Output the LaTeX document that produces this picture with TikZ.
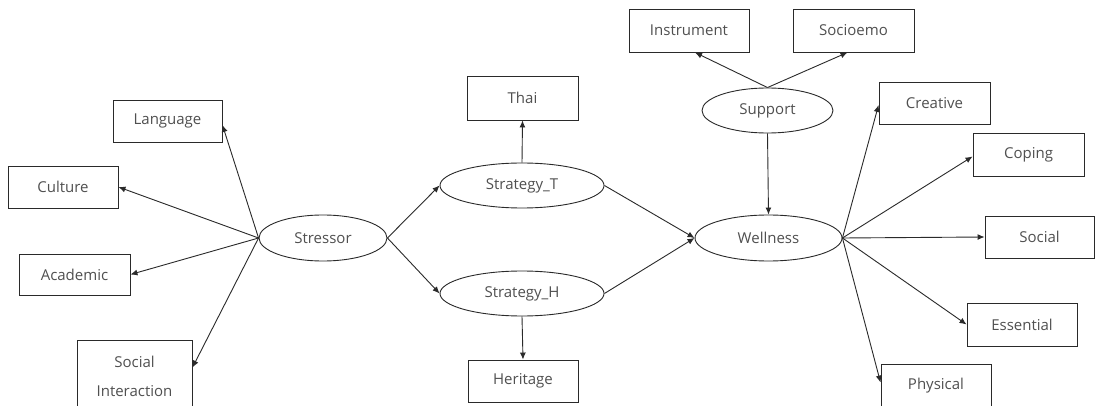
\documentclass[tikz,border=0pt]{standalone}
\usepackage{fontspec}
\setmainfont{Open Sans}
\usetikzlibrary{shapes.geometric,arrows.meta}
\definecolor{txtgray}{HTML}{505050}
\definecolor{linegray}{HTML}{2A2A2A}
\begin{document}
\begin{tikzpicture}[x=1pt,y=-1pt,
  lbl/.style={font=\fontsize{15}{18}\selectfont, text=txtgray},
  box/.style={lbl, draw=linegray, line width=0.9pt, rectangle, inner sep=0pt, align=center},
  latent/.style={lbl, draw=linegray, line width=0.9pt, ellipse, inner sep=0pt},
  link/.style={draw=linegray, line width=0.9pt, -{Latex[length=7pt,width=6pt]}},
]
\useasboundingbox (0,0) rectangle (1095,406);
\fill[white] (0,0) rectangle (1095,406);
\clip (0,0) rectangle (1095,406);

% latent variables
\node[latent, minimum width=128, minimum height=46] (stressor) at (323,238) {Stressor};
\node[latent, minimum width=164, minimum height=45] (stratT) at (522,185.5) {Strategy\_T};
\node[latent, minimum width=164, minimum height=45] (stratH) at (522,293.5) {Strategy\_H};
\node[latent, minimum width=131, minimum height=45] (support) at (767.5,110.5) {Support};
\node[latent, minimum width=147, minimum height=46] (wellness) at (768.5,238) {Wellness};

% stressor indicators
\node[box, minimum width=109, minimum height=42] (language) at (167.5,121) {Language};
\node[box, minimum width=110, minimum height=42] (culture) at (63,187) {Culture};
\node[box, minimum width=111, minimum height=41] (academic) at (74.5,274.5) {Academic};
\node[box, minimum width=115, minimum height=72, font=\fontsize{15}{29}\selectfont] (socint) at (134.5,376) {Social\\Interaction};

% strategy indicators
\node[box, minimum width=111, minimum height=44] (thai) at (522.5,98) {Thai};
\node[box, minimum width=110, minimum height=42] (heritage) at (523,381) {Heritage};

% support indicators
\node[box, minimum width=120, minimum height=43] (instrument) at (689,30.5) {Instrument};
\node[box, minimum width=121, minimum height=43] (socioemo) at (853.5,30.5) {Socioemo};

% wellness indicators
\node[box, minimum width=111, minimum height=42] (creative) at (934.5,103) {Creative};
\node[box, minimum width=111, minimum height=43] (coping) at (1028.5,154.5) {Coping};
\node[box, minimum width=109, minimum height=42] (social) at (1039.5,237) {Social};
\node[box, minimum width=110, minimum height=43] (essential) at (1022,324.5) {Essential};
\node[box, minimum width=110, minimum height=44] (physical) at (936,386) {Physical};

% stressor paths
\draw[link] (stressor.west) -- ([yshift=-4pt]language.east);
\draw[link] (stressor.west) -- (culture.east);
\draw[link] (stressor.west) -- (academic.east);
\draw[link] (stressor.west) -- ([yshift=-28pt]socint.north east);
\draw[link] (stressor.east) -- (stratT.west);
\draw[link] (stressor.east) -- (stratH.west);

% strategy paths
\draw[link] (stratT.north) -- (thai.south);
\draw[link] (stratH.south) -- (heritage.north);
\draw[link] (stratT.east) -- (wellness.west);
\draw[link] (stratH.east) -- (wellness.west);

% support paths
\draw[link] (support.north) -- ([xshift=6pt]instrument.south);
\draw[link] (support.north) -- ([xshift=-6pt]socioemo.south);
\draw[link] (support.south) -- (wellness.north);

% wellness paths
\draw[link] (wellness.east) -- ([yshift=-2pt]creative.west);
\draw[link] (wellness.east) -- ([yshift=-2pt]coping.west);
\draw[link] (wellness.east) -- (social.west);
\draw[link] (wellness.east) -- (essential.west);
\draw[link] (wellness.east) -- ([yshift=-19pt]physical.north west);
\end{tikzpicture}
\end{document}
